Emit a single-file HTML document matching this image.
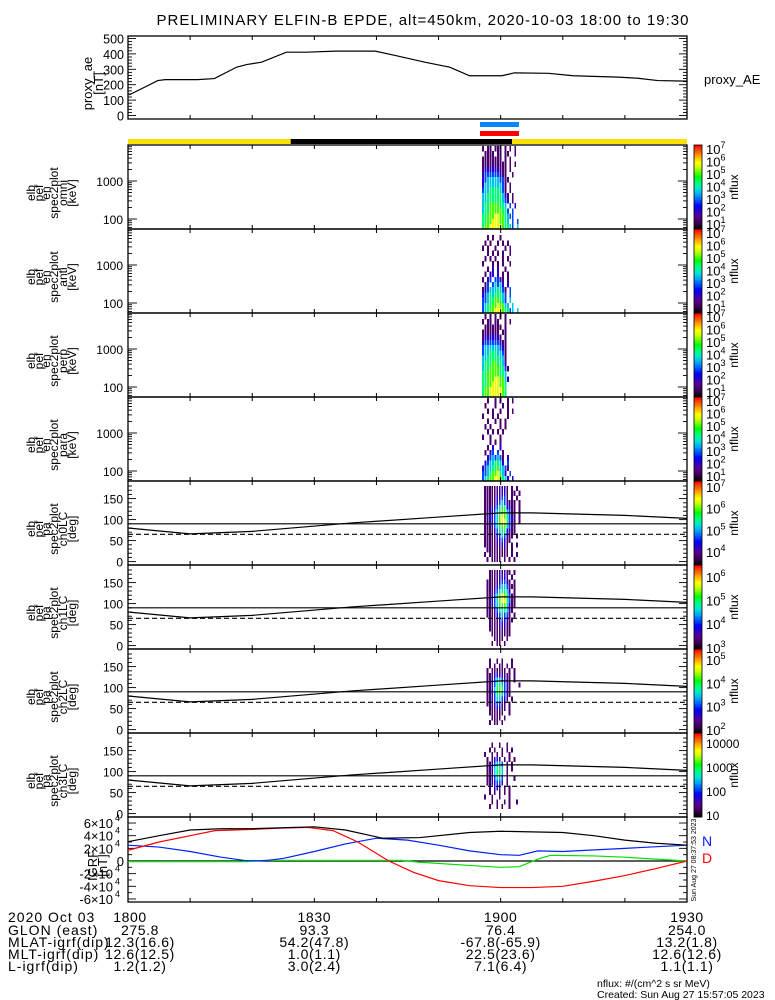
<!DOCTYPE html>
<html><head><meta charset="utf-8"><style>
html,body{margin:0;padding:0;background:#fff;}
svg{display:block;font-family:"Liberation Sans",sans-serif;}
</style></head><body>
<svg id="chart" width="775" height="1000" viewBox="0 0 775 1000" xmlns="http://www.w3.org/2000/svg">
<rect width="775" height="1000" fill="#fff"/>
<text x="423" y="25" font-size="15" letter-spacing="1" text-anchor="middle">PRELIMINARY ELFIN-B EPDE, alt=450km, 2020-10-03 18:00 to 19:30</text>
<g id="layer"></g>
</svg>
<script>
// ---------- data ----------
const aeTimes=[0.2,4.8,6.0,11.2,13.9,17.5,19.1,21.5,25.5,28.7,33.5,39.8,43.0,47.8,51.8,55.0,60.2,62.2,67.7,71.7,78.9,82.1,85.3,90];
const aeValues=[134,227,233,233,240,314,331,346,411,411,418,418,390,346,314,258,258,277,274,258,249,242,227,223];
const lcTimes=[0,10,20,36,50,60,65,80,90];
const lcAngles=[80,66,72,92,106,116,116,110,103];
const lcDashed=65;
const lcNinety=90;
const igrfBlackT=[0,5,10,15,20,25,30,35,41,47,55,60,65,70,75,80,85,90];
const igrfBlack=[3.05,4.0,4.9,5.1,5.1,5.25,5.4,4.9,3.6,3.7,4.5,4.7,4.6,4.5,4.0,3.3,2.8,2.5];
const igrfBlueT=[0,5,10,15,19,22,25,30,35,40,45,50,55,60,63,66,70,80,90];
const igrfBlue=[2.5,2.2,1.5,0.6,0.05,0.05,0.4,1.5,2.7,3.6,3.3,2.5,1.6,1.0,0.9,1.6,1.5,2.0,2.5];
const igrfRedT=[0,5,10,14,20,25,29,33,37,42,46,50,55,60,65,70,75,80,85,90];
const igrfRed=[1.7,3.0,4.0,4.8,5.0,5.2,5.3,4.8,3.0,0,-1.8,-3.1,-3.9,-4.2,-4.2,-4.0,-3.2,-2.3,-1.2,0];
const igrfGreenT=[0,10,19,22,30,44,47,55,60,63,66,68,75,80,85,90];
const igrfGreen=[-0.1,-0.1,-0.1,0.1,0.1,0.1,-0.2,-0.7,-1.0,-0.9,0.3,0.9,0.8,0.6,0.3,0.0];
const timeTickLabels=["1800","1830","1900","1930"];
const footerRows=[["2020 Oct 03","1800","1830","1900","1930"],["GLON (east)","275.8","93.3","76.4","254.0"],["MLAT-igrf(dip)","12.3(16.6)","54.2(47.8)","-67.8(-65.9)","13.2(1.8)"],["MLT-igrf(dip)","12.6(12.5)","1.0(1.1)","22.5(23.6)","12.6(12.6)"],["L-igrf(dip)","1.2(1.2)","3.0(2.4)","7.1(6.4)","1.1(1.1)"]];
// spectrogram levels: rows top->bottom, each char = colour level 0-9 ('.' = no data)
const specOmni=["1.11.111.1.1.1..",".1111.11.11..1..","11111111.1.1....","1111111111.1.1..","1222222111.1....","2333333211..1...","23444443311.....","2444444431.1....","3445555431.1....","44555555421.1...","44555555432.1...","4556666554.3.2..","45566666553.3...","5566677665433...","55667776654.3.3.","5667777765543.4."];
const specAnti=["................","..1.1..1........",".1.1..1.1.1.....","1.1..1...1.1....","..1.1.1.1..1....",".1.1.1..1.1.....","1...1.1.1..1....","..1.2.2..1......",".1.22.2.1.1.....","1.23.3321.1.....",".13.34342.2.....","1234445431.3....","2345455543.3....","3345566543.4....","34556676644.4...","3456677765534.4."];
const specPerp=[".1.1.1.1.1......","1.11.11..1.1....",".1111111.1......","1111111.11......","12222221.1......","2333333211......","3444444321......","3445554431......","4455555441......","4555665542......","45566665531.....","5566666554......","55666776642.....","5566777665......","5667777765......","5667777765......"];
const specPara=["..1..1.1..1.1...",".1...1..1.1.....","..1.1..1..1.1...","1...1.1...1.....","..1..1.1.1......",".1.1...1.1......","..1.1.1.1.......","1..1...1........","...1.1.1........","..1.2..2........",".1.23.3.1.......","..2343431.2.....",".23445542.3.....","23445564431.....","3345667542.3....","34566776542.2..."];
const paCh0=["1111112121.1.1..","1111112221.11.1.","1111122331.1.1..","1111123432111.1.","1112234552211.1.","1122345664311.1.","1122346765321.1.","1122346775321.1.","1112345664311...","1111234552211...","111112343211.1..","11111223211.....","1111112221.1.1..",".111111111.1....","1.11111111.1.1..",".1.1111.1.1.1..."];
const paCh1=["..111121211.1...","..11112221.1....",".1111123321.1...",".111123443111...",".1112345542.1...",".112346765311...",".112346775311...",".112345664211...",".11123455421....",".1111234331.1...","..1111232211....","..111122211.....","..111112111.....","...11111111.....","....1111.1......","...1.11.1......."];
const paCh2=["................","..1..1.1...1....","..1.1.11.1.1....",".1.111111.1.1...",".1112222111.1...",".1123443211.1...",".1123554321...1.",".1124565321.....",".1123554321.....",".112344321.1....",".11223321.1.....","..1112211.1.....","..111111..1.....","...1111.1.......","..1.11.1........","................"];
const paCh3=["................","...1..1..1......","..1.1..1.1.1....","1..1.1.1..1.....",".1.1222.1.1.1...",".1123443.1.1....",".1124554.1.1....",".1124554.1......",".1123443.1..1...",".1122332.1......","..1.222.1.1.....","..1.1.1.1.1.....","1..1..1...1.....","...1.1..1.1..1..","..1..1.1..1.....","................"];

// ---------- geometry ----------
const X0=128,X1=687,NS="http://www.w3.org/2000/svg";
const xT=t=>X0+(X1-X0)*t/90;
const L=document.getElementById('layer');
function el(tag,attrs,parent){const e=document.createElementNS(NS,tag);for(const k in attrs)e.setAttribute(k,attrs[k]);(parent||L).appendChild(e);return e;}
function txt(s,attrs,parent){const e=el('text',attrs,parent);e.textContent=s;return e;}
const stops=[[0,[0,0,0]],[0.06,[48,0,64]],[0.15,[90,0,144]],[0.28,[0,0,255]],[0.38,[0,128,255]],[0.47,[0,224,224]],[0.55,[0,255,128]],[0.63,[0,255,0]],[0.73,[192,255,0]],[0.8,[255,255,0]],[0.9,[255,128,0]],[1,[255,0,0]]];
function cmap(f){f=Math.max(0,Math.min(1,f));for(let i=1;i<stops.length;i++){if(f<=stops[i][0]){const a=stops[i-1],b=stops[i];const u=(f-a[0])/(b[0]-a[0]);const c=a[1].map((v,j)=>Math.round(v+(b[1][j]-v)*u));return `rgb(${c})`;}}return 'rgb(255,0,0)';}

function frame(top,bot,name){
  const g=el('g',{});
  
  
  el('rect',{x:X0,y:top,width:X1-X0,height:bot-top,fill:'none',stroke:'#000','stroke-width':1.3},g);
  for(let t=10;t<90;t+=10){const x=xT(t);el('line',{x1:x,x2:x,y1:top,y2:top+4,stroke:'#000'},g);el('line',{x1:x,x2:x,y1:bot,y2:bot-4,stroke:'#000'},g);}
  return g;
}
function yTick(g,y,len){el('line',{x1:X0,x2:X0+len,y1:y,y2:y,stroke:'#000','stroke-width':0.9},g);el('line',{x1:X1,x2:X1-len,y1:y,y2:y,stroke:'#000','stroke-width':0.9},g);}
function leftLabel(lines,top,bot,xs,name,fs){
  const g=el('g',{});
  
  
  const cy=(top+bot)/2+6;
  lines.forEach((s,i)=>{txt(s,{x:xs[i],y:cy,'font-size':fs||12,'text-anchor':'middle',transform:`rotate(-90 ${xs[i]} ${cy})`},g);});
}
function sup(g,x,y,base,exp){const t=txt('',{x:x,y:y,'font-size':13},g);const a=el('tspan',{},t);a.textContent=base;if(exp!==null){const b=el('tspan',{dy:-6,'font-size':9},t);b.textContent=exp;}return t;}
function colorbar(top,bot,lo,hi,labels,plain,name){
  const g=el('g',{});
  
  
  const n=60,h=(bot-top)/n;
  for(let i=0;i<n;i++){el('rect',{x:694,y:bot-(i+1)*h,width:8,height:h+0.4,fill:cmap((i+0.5)/n),'shape-rendering':'crispEdges'},g);}
  el('rect',{x:694,y:top,width:8,height:bot-top,fill:'none',stroke:'#000','stroke-width':0.8},g);
  labels.forEach(p=>{const y=bot-(p-lo)/(hi-lo)*(bot-top)+5;if(plain)txt(String(Math.pow(10,p)),{x:706,y:y,'font-size':12},g);else sup(g,706,y,'10',String(p));});
  const cy=(top+bot)/2;
  txt('nflux',{x:738,y:cy,'font-size':12,'text-anchor':'middle',transform:`rotate(-90 738 ${cy})`},g);
}
function drawCells(grid,top,bot,t0,rowY,name){
  const g=el('g',{});
  
  
  grid.forEach((row,r)=>{const yy=rowY(r);[...row].forEach((ch,c)=>{if(ch==='.')return;const x=xT(t0+0.4*c);const w=xT(t0+0.4*(c+1))-x;
    const rc=el('rect',{x:x,y:yy[0],width:w-0.6,height:yy[1]-yy[0]+0.3,fill:cmap(parseInt(ch)/9),'shape-rendering':'crispEdges'},g);
    
    });});
}
function polyline(ts,vs,fx,fy,color,name,dash){
  const p=el('polyline',{points:ts.map((t,i)=>fx(t)+','+fy(vs[i])).join(' '),fill:'none',stroke:color,'stroke-width':1.2});
  if(dash)p.setAttribute('stroke-dasharray',dash);
  
  
  return p;
}

// ---------- AE panel ----------
(function(){
  const top=36,bot=119,yAE=v=>115.5-v*0.154;
  const g=frame(top,bot,'proxy-ae-panel');
  for(let v=0;v<=500;v+=20){yTick(g,yAE(v),v%100===0?8:4);}
  [0,100,200,300,400,500].forEach(v=>txt(String(v),{x:124,y:yAE(v)+5,'font-size':12.5,'text-anchor':'end'},g));
  polyline(aeTimes,aeValues,xT,yAE,'#000','proxy-ae-line');
  leftLabel(['proxy_ae','[nT]'],top,bot,[92,103],'proxy-ae-axis-title',13);
  const t=txt('proxy_AE',{x:704,y:84,'font-size':13});
  
  
})();

// ---------- orbit bars ----------
(function(){
  const g=el('g',{});
  
  
  el('rect',{x:480,y:122,width:39,height:5,fill:'#0a84ff'},g);
  el('rect',{x:480,y:131,width:39,height:5,fill:'#ff0000'},g);
  el('rect',{x:X0,y:139,width:X1-X0,height:5,fill:'#ffe000'},g);
  el('rect',{x:xT(26.2),y:139,width:512-xT(26.2),height:5,fill:'#000'},g);
})();

// ---------- energy spectrograms ----------
const ePanels=[[145,specOmni,'omni'],[229,specAnti,'anti'],[313,specPerp,'perp'],[397,specPara,'para']];
ePanels.forEach(([top,grid,nm])=>{
  const bot=top+84;const yE=E=>top+74-(Math.log10(E)-2)*38;
  drawCells(grid,top,bot,57.0,r=>{const lg=1.8+(15-r)*0.137;return [top+74-(lg+0.0685-2)*38,top+74-(lg-0.0685-2)*38];},'spectrogram-'+nm);
  const g=frame(top,bot,'energy-panel-'+nm);
  [60,70,80,90,100,200,300,400,500,600,700,800,900,1000,2000,3000,4000,5000,6000,7000,8000].forEach(E=>{const y=yE(E);if(y>top&&y<bot)yTick(g,y,(E===100||E===1000)?9:4);});
  txt('1000',{x:123,y:yE(1000)+5,'font-size':12,'text-anchor':'end'},g);
  txt('100',{x:123,y:yE(100)+5,'font-size':12,'text-anchor':'end'},g);
  leftLabel(['elb','pef','en','spec2plot',nm,'[keV]'],top,bot,[35,43,50,58,67,76],'energy-axis-title-'+nm);
  colorbar(top,bot,0.6,7.3,[1,2,3,4,5,6,7],false,'colorbar-'+nm);
});

// ---------- pitch-angle spectrograms ----------
const paPanels=[[481,paCh0,'ch0LC',3.4,7.28,[4,5,6,7],false],[565,paCh1,'ch1LC',2.95,6.5,[3,4,5,6],false],[649,paCh2,'ch2LC',1.87,5.47,[2,3,4,5],false],[733,paCh3,'ch3LC',0.92,4.42,[1,2,3,4],true]];
paPanels.forEach(([top,grid,nm,lo,hi,labs,plain])=>{
  const bot=top+84;const yA=a=>top+5+(180-a)*0.42;
  drawCells(grid,top,bot,57.3,r=>[yA(180-r*11.25),yA(180-(r+1)*11.25)],'pa-spectrogram-'+nm);
  const g=frame(top,bot,'pa-panel-'+nm);
  for(let a=0;a<=180;a+=10)yTick(g,yA(a),a%50===0?8:4);
  [0,50,100,150].forEach(a=>txt(String(a),{x:123,y:yA(a)+5,'font-size':12,'text-anchor':'end'},g));
  el('line',{x1:X0,x2:X1,y1:yA(lcNinety),y2:yA(lcNinety),stroke:'#000','stroke-width':1.2},g);
  polyline([0,90],[lcDashed,lcDashed],xT,yA,'#000','loss-cone-dashed-'+nm,'5,3');
  polyline(lcTimes,lcAngles,xT,yA,'#000','loss-cone-curve-'+nm);
  leftLabel(['elb','pef','pa','spec2plot',nm,'[deg]'],top,bot,[35,43,50,58,67,76],'pa-axis-title-'+nm);
  colorbar(top,bot,lo,hi,labs,plain,'colorbar-'+nm);
});

// ---------- IGRF panel ----------
(function(){
  const top=817,bot=902,yB=v=>861-v*6.33;
  const g=frame(top,bot,'igrf-panel');
  for(let v=-6;v<=6;v+=1)yTick(g,yB(v),v%2===0?8:4);
  [6,4,2,0,-2,-4,-6].forEach(v=>{if(v===0)txt('0',{x:124,y:yB(0)+5,'font-size':13,'text-anchor':'end'},g);else{const t=txt('',{x:113,y:yB(v)+5,'font-size':13,'text-anchor':'end'},g);t.textContent=v+'×10';txt('4',{x:115,y:yB(v)-2,'font-size':9},g);}});
  polyline(igrfGreenT,igrfGreen,xT,yB,'#00e000','igrf-green-line');
  el('line',{x1:X0,x2:X1,y1:yB(0),y2:yB(0),stroke:'#000','stroke-width':1.2},g);
  polyline(igrfBlueT,igrfBlue,xT,yB,'#0020ff','igrf-n-line');
  polyline(igrfRedT,igrfRed,xT,yB,'#ff0000','igrf-d-line');
  polyline(igrfBlackT,igrfBlack,xT,yB,'#000','igrf-black-line');
  leftLabel(['IGRF','[nT]'],top,bot,[97,107],'igrf-axis-title',13);
  const n=txt('N',{x:702,y:846,'font-size':14,fill:'#0020ff'});
  
  
  const d=txt('D',{x:702,y:863,'font-size':14,fill:'#ff0000'});
  
  
  const s=txt('Sun Aug 27 08:37:53 2023',{x:696,y:860,'font-size':7,'text-anchor':'middle',transform:'rotate(-90 696 860)'});
  
  
})();

// ---------- footer ----------
(function(){
  const g=el('g',{});
  
  
  const ys=[922,935,947,959,971];
  const xs=[X0+2,xT(30),xT(60),xT(90)];
  footerRows.forEach((row,r)=>{txt(row[0],{x:8,y:ys[r],'font-size':14,'letter-spacing':1},g);
    row.slice(1).forEach((s,c)=>txt(s,{x:(r>0&&c===0)?xs[c]+10:xs[c],y:ys[r],'font-size':14,'letter-spacing':0.6,'text-anchor':'middle'},g));});
  txt('nflux: #/(cm^2 s sr MeV)',{x:597,y:987,'font-size':10.5},g);
  txt('Created: Sun Aug 27 15:57:05 2023',{x:597,y:998,'font-size':10.5},g);
})();
</script>
</body></html>
